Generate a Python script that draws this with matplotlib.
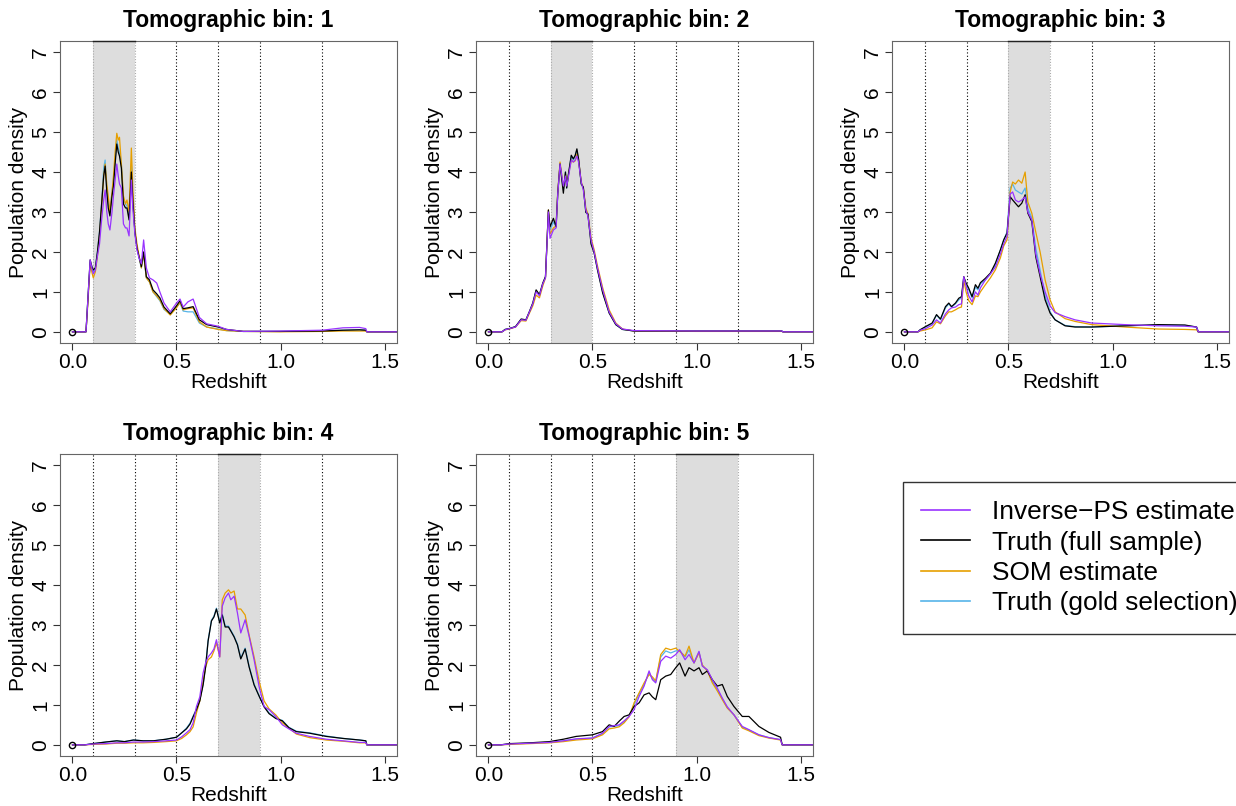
import numpy as np
import matplotlib.pyplot as plt

plt.rcParams['font.family'] = ['Liberation Sans', 'DejaVu Sans']

# bin edges of the tomographic bins
edges = [0.1, 0.3, 0.5, 0.7, 0.9, 1.2]

# ---- bin 1 ----
z1 = [0, 0.065, 0.075, 0.085, 0.095, 0.10, 0.11, 0.12, 0.13, 0.14,
      0.15, 0.157, 0.165, 0.172, 0.18, 0.19, 0.197, 0.205, 0.213, 0.22,
      0.226, 0.235, 0.245, 0.255, 0.262, 0.272, 0.283, 0.29, 0.30, 0.31,
      0.32, 0.331, 0.342, 0.355, 0.37, 0.387, 0.405, 0.42, 0.44, 0.47,
      0.50, 0.517, 0.532, 0.555, 0.58, 0.61, 0.645, 0.70, 0.74, 0.82,
      1.0, 1.2, 1.3, 1.38, 1.41, 1.415, 1.56]
truth1 = [0, 0, 0.9, 1.8, 1.6, 1.55, 1.6, 2.0, 2.5, 3.2,
          3.9, 4.15, 3.5, 3.1, 2.9, 3.4, 3.65, 4.2, 4.7, 4.5,
          4.4, 4.1, 3.2, 3.1, 3.1, 2.8, 4.0, 3.3, 2.5, 2.1,
          1.88, 1.63, 2.0, 1.38, 1.3, 1.05, 0.95, 0.85, 0.62, 0.45,
          0.65, 0.78, 0.58, 0.6, 0.63, 0.3, 0.18, 0.12, 0.06, 0.01,
          0.01, 0.02, 0.04, 0.05, 0.04, 0, 0]
ips1 = [0, 0, 0.9, 1.8, 1.55, 1.45, 1.55, 1.9, 2.2, 2.8,
        3.3, 3.55, 3.0, 2.7, 2.55, 3.0, 3.4, 3.8, 4.2, 3.9,
        3.7, 3.6, 2.7, 2.6, 2.6, 2.4, 3.8, 3.1, 2.45, 2.05,
        1.85, 1.7, 2.3, 1.6, 1.35, 1.3, 1.22, 1.0, 0.72, 0.5,
        0.72, 0.82, 0.62, 0.75, 0.82, 0.36, 0.2, 0.14, 0.06, 0.01,
        0.02, 0.04, 0.1, 0.11, 0.08, 0, 0]
som1 = [0, 0, 0.8, 1.7, 1.45, 1.35, 1.5, 1.9, 2.4, 3.1,
        3.9, 4.2, 3.7, 3.4, 3.0, 3.5, 3.9, 4.5, 4.97, 4.8,
        4.87, 4.2, 3.4, 3.2, 3.3, 3.0, 4.6, 3.6, 2.6, 2.2,
        1.9, 1.6, 1.95, 1.35, 1.25, 1.0, 0.9, 0.8, 0.58, 0.42,
        0.6, 0.74, 0.55, 0.58, 0.6, 0.25, 0.12, 0.06, 0.03, 0.01,
        0.0, 0.01, 0.02, 0.02, 0.02, 0, 0]
gold1 = [0, 0, 0.9, 1.75, 1.6, 1.5, 1.6, 2.0, 2.5, 3.2,
         4.1, 4.3, 3.6, 3.2, 3.0, 3.5, 3.8, 4.3, 4.8, 4.6,
         4.5, 4.2, 3.3, 3.2, 3.15, 2.9, 4.2, 3.4, 2.5, 2.1,
         1.85, 1.6, 1.95, 1.35, 1.25, 1.0, 0.88, 0.78, 0.56, 0.44,
         0.62, 0.72, 0.52, 0.5, 0.5, 0.22, 0.12, 0.07, 0.03, 0.01,
         0.01, 0.02, 0.04, 0.05, 0.04, 0, 0]

# ---- bin 2 ----
z2 = [0, 0.065, 0.08, 0.10, 0.13, 0.157, 0.18, 0.197, 0.213, 0.229,
      0.245, 0.261, 0.274, 0.288, 0.296, 0.312, 0.325, 0.333, 0.344, 0.36,
      0.37, 0.376, 0.385, 0.398, 0.408, 0.417, 0.425, 0.433, 0.446, 0.456,
      0.468, 0.478, 0.493, 0.508, 0.524, 0.549, 0.58, 0.612, 0.644, 0.70,
      1.0, 1.2, 1.41, 1.415, 1.56]
truth2 = [0, 0, 0.06, 0.08, 0.13, 0.32, 0.3, 0.51, 0.72, 1.05,
          0.93, 1.22, 1.38, 3.05, 2.63, 2.84, 2.63, 3.47, 4.2, 3.47,
          4.0, 3.6, 3.97, 4.42, 4.33, 4.42, 4.58, 4.33, 3.7, 3.62,
          2.99, 2.95, 2.2, 1.97, 1.55, 0.97, 0.47, 0.18, 0.06, 0.02,
          0.02, 0.02, 0.02, 0, 0]
ips2 = [0, 0, 0.05, 0.08, 0.12, 0.3, 0.29, 0.5, 0.7, 1.0,
        0.9, 1.2, 1.35, 3.0, 2.34, 2.55, 2.6, 3.45, 4.2, 3.65,
        3.9, 3.65, 3.9, 4.3, 4.25, 4.3, 4.4, 4.25, 3.75, 3.55,
        3.05, 2.9, 2.3, 2.0, 1.6, 1.05, 0.5, 0.2, 0.07, 0.03,
        0.02, 0.02, 0.02, 0, 0]
som2 = [0, 0, 0.05, 0.07, 0.12, 0.28, 0.27, 0.47, 0.65, 0.92,
        0.85, 1.15, 1.35, 3.05, 2.45, 2.6, 2.65, 3.5, 4.25, 3.6,
        3.95, 3.65, 3.95, 4.3, 4.25, 4.28, 4.45, 4.3, 3.75, 3.6,
        3.1, 2.95, 2.35, 2.05, 1.65, 1.1, 0.55, 0.22, 0.07, 0.02,
        0.01, 0.01, 0.01, 0, 0]
gold2 = [0, 0, 0.06, 0.08, 0.13, 0.31, 0.3, 0.5, 0.72, 1.03,
         0.92, 1.2, 1.38, 3.0, 2.55, 2.75, 2.63, 3.45, 4.2, 3.55,
         4.0, 3.6, 3.95, 4.4, 4.3, 4.4, 4.55, 4.3, 3.7, 3.6,
         3.0, 2.93, 2.25, 1.98, 1.57, 1.0, 0.48, 0.18, 0.06, 0.02,
         0.02, 0.02, 0.02, 0, 0]

# ---- bin 3 ----
z3 = [0, 0.065, 0.075, 0.101, 0.133, 0.154, 0.173, 0.197, 0.213, 0.226,
      0.245, 0.261, 0.274, 0.285, 0.296, 0.309, 0.325, 0.341, 0.353, 0.365,
      0.389, 0.413, 0.437, 0.461, 0.477, 0.493, 0.508, 0.52, 0.533, 0.548,
      0.564, 0.58, 0.593, 0.612, 0.631, 0.652, 0.676, 0.70, 0.724, 0.772,
      0.82, 0.90, 1.06, 1.22, 1.348, 1.404, 1.412, 1.56]
truth3 = [0, 0, 0.05, 0.13, 0.22, 0.43, 0.32, 0.63, 0.72, 0.63,
          0.72, 0.84, 0.88, 1.38, 1.22, 1.09, 0.88, 1.18, 1.09, 1.23,
          1.34, 1.47, 1.72, 2.05, 2.3, 2.47, 3.38, 3.3, 3.22, 3.13,
          3.22, 3.43, 2.97, 2.76, 1.88, 1.38, 0.8, 0.47, 0.3, 0.15,
          0.12, 0.12, 0.15, 0.18, 0.17, 0.12, 0, 0]
ips3 = [0, 0, 0.04, 0.08, 0.17, 0.3, 0.22, 0.45, 0.55, 0.6,
        0.62, 0.68, 0.7, 1.38, 1.15, 0.9, 0.75, 1.0, 0.92, 1.1,
        1.3, 1.45, 1.62, 1.95, 2.2, 2.4, 3.45, 3.5, 3.3, 3.25,
        3.3, 3.38, 3.0, 2.8, 1.95, 1.45, 1.0, 0.65, 0.48, 0.38,
        0.3, 0.22, 0.18, 0.15, 0.14, 0.12, 0, 0]
som3 = [0, 0, 0.02, 0.05, 0.1, 0.25, 0.2, 0.4, 0.5, 0.5,
        0.55, 0.6, 0.62, 1.3, 1.0, 0.78, 0.68, 0.9, 0.88, 1.0,
        1.18, 1.35, 1.55, 1.85, 2.15, 2.3, 3.5, 3.75, 3.7, 3.8,
        3.72, 4.0, 3.25, 2.97, 2.5, 2.0, 1.3, 0.8, 0.5, 0.33,
        0.26, 0.18, 0.12, 0.07, 0.06, 0.05, 0, 0]
gold3 = [0, 0, 0.05, 0.12, 0.2, 0.42, 0.3, 0.6, 0.7, 0.62,
         0.7, 0.8, 0.85, 1.35, 1.18, 1.05, 0.85, 1.12, 1.05, 1.2,
         1.3, 1.45, 1.68, 2.05, 2.3, 2.5, 3.6, 3.7, 3.55, 3.5,
         3.45, 3.6, 3.1, 2.85, 2.1, 1.55, 0.9, 0.5, 0.3, 0.16,
         0.13, 0.12, 0.15, 0.17, 0.16, 0.12, 0, 0]

# ---- bin 4 ----
z4 = [0, 0.06, 0.10, 0.16, 0.213, 0.25, 0.293, 0.34, 0.389, 0.45,
      0.50, 0.525, 0.548, 0.565, 0.58, 0.596, 0.612, 0.628, 0.64, 0.652,
      0.668, 0.68, 0.692, 0.708, 0.72, 0.734, 0.75, 0.761, 0.777, 0.793,
      0.809, 0.83, 0.849, 0.873, 0.897, 0.921, 0.945, 0.977, 1.009, 1.04,
      1.076, 1.14, 1.22, 1.3, 1.38, 1.41, 1.415, 1.56]
truth4 = [0, 0, 0.03, 0.07, 0.1, 0.08, 0.12, 0.1, 0.1, 0.14,
          0.19, 0.3, 0.4, 0.52, 0.7, 0.88, 1.1, 1.5, 1.95, 2.6,
          3.1, 3.2, 3.4, 3.05, 3.25, 2.95, 2.95, 2.85, 2.7, 2.5,
          2.15, 2.4, 1.95, 1.5, 1.22, 0.95, 0.78, 0.66, 0.6, 0.43,
          0.33, 0.29, 0.21, 0.16, 0.12, 0.1, 0, 0]
ips4 = [0, 0, 0.02, 0.03, 0.05, 0.05, 0.07, 0.07, 0.08, 0.1,
        0.12, 0.2, 0.3, 0.38, 0.55, 0.96, 1.2, 1.8, 2.05, 2.2,
        2.3, 2.4, 2.63, 2.2, 3.47, 3.68, 3.8, 3.63, 3.72, 3.3,
        2.8, 3.13, 2.72, 2.13, 1.46, 0.96, 0.88, 0.71, 0.5, 0.4,
        0.29, 0.21, 0.14, 0.1, 0.06, 0.06, 0, 0]
som4 = [0, 0, 0.01, 0.02, 0.04, 0.04, 0.05, 0.05, 0.06, 0.08,
        0.1, 0.16, 0.25, 0.33, 0.45, 0.8, 1.1, 1.6, 1.95, 2.13,
        2.2, 2.35, 2.55, 2.2, 3.63, 3.8, 3.88, 3.8, 3.85, 3.4,
        3.4, 3.25, 2.75, 2.2, 1.6, 1.1, 0.9, 0.75, 0.55, 0.42,
        0.27, 0.18, 0.12, 0.09, 0.05, 0.05, 0, 0]
gold4 = [0, 0, 0.03, 0.07, 0.1, 0.08, 0.12, 0.1, 0.1, 0.14,
         0.19, 0.3, 0.42, 0.54, 0.72, 0.9, 1.12, 1.52, 1.98, 2.62,
         3.12, 3.22, 3.42, 3.08, 3.27, 2.97, 2.97, 2.87, 2.72, 2.52,
         2.17, 2.42, 1.97, 1.52, 1.23, 0.97, 0.8, 0.67, 0.61, 0.44,
         0.34, 0.3, 0.22, 0.16, 0.12, 0.1, 0, 0]

# ---- bin 5 ----
z5 = [0, 0.06, 0.101, 0.2, 0.293, 0.36, 0.421, 0.5, 0.548, 0.58,
      0.604, 0.628, 0.652, 0.676, 0.70, 0.724, 0.748, 0.772, 0.788, 0.804,
      0.828, 0.852, 0.876, 0.9, 0.919, 0.945, 0.964, 0.988, 1.012, 1.028,
      1.052, 1.076, 1.1, 1.124, 1.148, 1.18, 1.22, 1.252, 1.3, 1.348,
      1.404, 1.412, 1.56]
truth5 = [0, 0, 0.03, 0.05, 0.08, 0.14, 0.21, 0.25, 0.33, 0.5,
          0.46, 0.59, 0.71, 0.75, 0.96, 1.05, 1.25, 1.3, 1.2, 1.13,
          1.63, 1.72, 1.76, 1.93, 2.05, 1.72, 1.93, 1.85, 1.93, 1.76,
          1.85, 1.63, 1.47, 1.51, 1.21, 0.96, 0.71, 0.71, 0.46, 0.31,
          0.19, 0, 0]
ips5 = [0, 0, 0.02, 0.04, 0.06, 0.1, 0.15, 0.17, 0.29, 0.46,
        0.48, 0.5, 0.6, 0.71, 0.88, 1.21, 1.47, 1.85, 1.63, 1.55,
        2.09, 2.22, 2.17, 2.26, 2.38, 2.13, 2.26, 2.05, 2.34, 1.97,
        1.88, 1.63, 1.42, 1.17, 0.95, 0.75, 0.46, 0.38, 0.25, 0.18,
        0.13, 0, 0]
som5 = [0, 0, 0.01, 0.03, 0.05, 0.08, 0.12, 0.15, 0.25, 0.4,
        0.42, 0.45, 0.55, 0.7, 1.05, 1.3, 1.55, 1.76, 1.7, 1.6,
        2.26, 2.42, 2.38, 2.42, 2.34, 2.22, 2.47, 2.05, 2.3, 2.0,
        1.85, 1.55, 1.35, 1.13, 0.92, 0.75, 0.42, 0.35, 0.23, 0.17,
        0.12, 0, 0]
gold5 = [0, 0, 0.02, 0.04, 0.06, 0.1, 0.14, 0.17, 0.28, 0.45,
         0.46, 0.48, 0.58, 0.72, 1.0, 1.28, 1.5, 1.8, 1.65, 1.58,
         2.2, 2.35, 2.3, 2.35, 2.36, 2.2, 2.38, 2.05, 2.32, 1.98,
         1.86, 1.58, 1.38, 1.15, 0.93, 0.75, 0.44, 0.37, 0.25, 0.18,
         0.13, 0, 0]

panels = [
    (z1, truth1, ips1, som1, gold1),
    (z2, truth2, ips2, som2, gold2),
    (z3, truth3, ips3, som3, gold3),
    (z4, truth4, ips4, som4, gold4),
    (z5, truth5, ips5, som5, gold5),
]

c_ips = '#9933FF'
c_truth = 'black'
c_som = '#E69F00'
c_gold = '#56B4E9'

W, H = 1236, 806
fig = plt.figure(figsize=(W / 100, H / 100), dpi=100)

lefts = [60, 476, 892]
tops = [41, 454]
aw, ah = 337, 302

for i, (z, truth, ips, som, gold) in enumerate(panels):
    row, col = divmod(i, 3)
    ax = fig.add_axes([lefts[col] / W, 1 - (tops[row] + ah) / H, aw / W, ah / H])
    ax.set_xlim(-0.06, 1.56)
    ax.set_ylim(-0.28, 7.28)

    lo, hi = edges[i], edges[i + 1]
    ax.axvspan(lo, hi, color='#dddddd', lw=0, zorder=0)
    for e in (lo, hi):
        ax.axvline(e, color='#aaaaaa', ls=(0, (1, 1.5)), lw=0.8, zorder=0.5)
    ax.plot([lo, hi], [7.28, 7.28], color='#222222', lw=1.0, clip_on=False, zorder=5)
    for j, e in enumerate(edges):
        if j != i and j != i + 1:
            ax.axvline(e, color='black', ls=(0, (1, 2)), lw=0.8, zorder=0.5)

    ax.plot(z, gold, color=c_gold, lw=0.9, zorder=2)
    ax.plot(z, som, color=c_som, lw=0.9, zorder=2.1)
    ax.plot(z, truth, color=c_truth, lw=0.9, zorder=2.2)
    ax.plot(z, ips, color=c_ips, lw=0.9, zorder=2.3)
    ax.plot([0], [0], 'o', ms=4.5, mfc='none', mec='black', mew=1.0, zorder=3)

    ax.set_xticks([0, 0.5, 1.0, 1.5])
    ax.set_xticklabels(['0.0', '0.5', '1.0', '1.5'])
    ax.set_yticks(range(8))
    ax.tick_params(axis='both', direction='out', length=5, width=0.8,
                   labelsize=15, color='#333333', pad=2)
    for lab in ax.get_yticklabels():
        lab.set_rotation(90)
        lab.set_va('center')
    for s in ax.spines.values():
        s.set_color('#666666')
        s.set_linewidth(0.8)

    ax.set_xlabel('Redshift', fontsize=15, labelpad=1)
    ax.set_ylabel('Population density', fontsize=15, labelpad=2)
    ax.set_title('Tomographic bin: %d' % (i + 1), fontsize=16.5,
                 fontweight='bold', pad=10)

handles = [plt.Line2D([], [], color=c, lw=1.2) for c in (c_ips, c_truth, c_som, c_gold)]
labels = ['Inverse\u2212PS estimate', 'Truth (full sample)', 'SOM estimate',
          'Truth (gold selection)']
leg = fig.legend(handles, labels, loc='upper left',
                 bbox_to_anchor=(903 / W, 1 - 482 / H), fontsize=18.9,
                 frameon=True, fancybox=False, edgecolor='black',
                 handlelength=1.85, handletextpad=0.85, labelspacing=0.24,
                 borderpad=0.7, borderaxespad=0)
leg.get_frame().set_linewidth(1.0)

fig.savefig('out.png', dpi=100)
